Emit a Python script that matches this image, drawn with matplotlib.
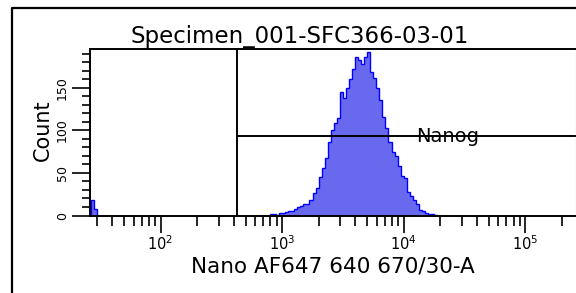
import numpy as np
import matplotlib
matplotlib.use('Agg')
import matplotlib.pyplot as plt
from matplotlib.lines import Line2D
from matplotlib.ticker import FixedLocator, LogLocator, LogFormatterMathtext, NullFormatter, MultipleLocator

# histogram (log10 bins)
main_start = 2.90
bin_width = 0.025
main_counts = [2, 2, 1, 3, 3, 4, 5, 5, 8, 10,
               11, 13, 14, 18, 26, 32, 45, 56, 68, 86,
               100, 108, 114, 145, 138, 150, 160, 172, 186, 182,
               178, 186, 192, 168, 161, 150, 136, 116, 103, 86,
               75, 70, 58, 46, 44, 28, 23, 18, 13, 7,
               5, 3, 2, 2, 1]
edge_start = 1.425
edge_counts = [18, 8]

x_range = (10 ** 1.42, 10 ** 5.413)
y_range = (0, 196)
x_major = [1e2, 1e3, 1e4, 1e5]
y_major = [0, 50, 100, 150]

gate_x = 425
gate_y = 93
gate_name = 'Nanog'
gate_label_x = 23000

title = 'Specimen_001-SFC366-03-01'
x_title = 'Nano AF647 640 670/30-A'
y_title = 'Count'

W, H = 576, 293


def log_edges(start, counts):
    return 10 ** (start + bin_width * np.arange(len(counts) + 1))


def plot_graph():
    plt.rcParams['font.family'] = ['DejaVu Sans']
    fig = plt.figure(figsize=(W / 100, H / 100), dpi=100)
    ax = fig.add_axes([90 / W, 1 - 215.5 / H, (575.5 - 90) / W, (215.5 - 48.5) / H])

    for start, counts in [(main_start, main_counts), (edge_start, edge_counts)]:
        ax.stairs(counts, log_edges(start, counts), fill=True,
                  facecolor='#6969f0', edgecolor='#0000ff', linewidth=1.0)

    ax.set_xscale('log')
    ax.set_xlim(*x_range)
    ax.set_ylim(*y_range)

    # gate
    ax.axvline(gate_x, color='black', linewidth=1.4)
    ax.plot([gate_x, x_range[1]], [gate_y, gate_y], color='black', linewidth=1.4)
    ax.text(gate_label_x, gate_y, gate_name, ha='center', va='center', fontsize=14)

    ax.xaxis.set_major_locator(FixedLocator(x_major))
    ax.xaxis.set_major_formatter(LogFormatterMathtext())
    ax.xaxis.set_minor_locator(LogLocator(base=10, subs=np.arange(2, 10)))
    ax.xaxis.set_minor_formatter(NullFormatter())
    ax.yaxis.set_major_locator(FixedLocator(y_major))
    ax.yaxis.set_minor_locator(MultipleLocator(10))

    ax.tick_params(axis='x', which='major', length=12.5, width=1.2, pad=1, labelsize=10.5)
    ax.tick_params(axis='x', which='minor', length=7, width=1.2)
    ax.tick_params(axis='y', which='major', length=13, width=1.2, pad=2, labelsize=9, labelrotation=90)
    ax.tick_params(axis='y', which='minor', length=6, width=1.2)
    for lbl in ax.get_yticklabels():
        lbl.set_va('center')

    for side in ['left', 'bottom', 'top']:
        ax.spines[side].set_linewidth(1.4)
    ax.spines['right'].set_color('#aaaaaa')
    ax.spines['right'].set_linewidth(0.8)

    fig.text(300 / W, 1 - 42.7 / H, title, ha='center', va='baseline', fontsize=16.5)
    fig.text(332.5 / W, 1 - 272.5 / H, x_title, ha='center', va='baseline', fontsize=15.5)
    fig.text(42.5 / W, 1 - 130 / H, y_title, ha='center', va='center', rotation=90, fontsize=15)

    # outer frame, runs off the picture
    fig.add_artist(Line2D([12 / W, 12 / W, 1], [0, 1 - 7.5 / H, 1 - 7.5 / H],
                          color='black', linewidth=1.6, transform=fig.transFigure))

    fig.savefig('out.png', dpi=100)


plot_graph()
